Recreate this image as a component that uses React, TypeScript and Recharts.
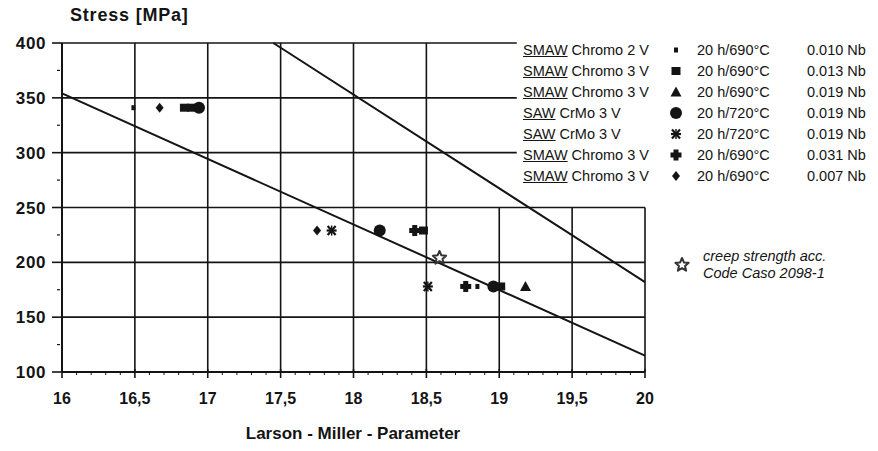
import React from 'react';
import { ScatterChart, Scatter, XAxis, YAxis, ReferenceLine } from 'recharts';

// ---------- data ----------
const xMajorTicks = [16, 16.5, 17, 17.5, 18, 18.5, 19, 19.5, 20];
const xTickLabels = ['16', '16,5', '17', '17,5', '18', '18,5', '19', '19,5', '20'];
const xMinorTicks = [
  16.1, 16.2, 16.3, 16.4, 16.6, 16.7, 16.8, 16.9,
  17.1, 17.2, 17.3, 17.4, 17.6, 17.7, 17.8, 17.9,
  18.1, 18.2, 18.3, 18.4, 18.6, 18.7, 18.8, 18.9,
  19.1, 19.2, 19.3, 19.4, 19.6, 19.7, 19.8, 19.9,
];
const yMajorTicks = [100, 150, 200, 250, 300, 350, 400];
const yMinorTicks = [125, 175, 225, 275, 325, 375];

// grid: lines partly hidden behind the legend block in the original
const yGridFull = [150, 200, 250];
const yGridShort = [300, 350, 400];
const xGridFull = [16.5, 17, 17.5, 18, 18.5];
const xGridShort = [19, 19.5, 20];
const legendEdgeX = 19.12;
const legendEdgeY = 250;

const smawChromo2V_010 = [{ x: 16.49, y: 341 }, { x: 18.85, y: 178 }];
const smawChromo3V_013 = [{ x: 16.84, y: 341 }, { x: 16.89, y: 341 }, { x: 18.48, y: 229 }, { x: 19.01, y: 178 }];
const smawChromo3V_019 = [{ x: 19.18, y: 178 }];
const sawCrMo3V_019_circle = [{ x: 16.94, y: 341 }, { x: 18.18, y: 229 }, { x: 18.96, y: 178 }];
const sawCrMo3V_019_star = [{ x: 17.85, y: 229 }, { x: 18.51, y: 178 }];
const smawChromo3V_031 = [{ x: 18.42, y: 229 }, { x: 18.77, y: 178 }];
const smawChromo3V_007 = [{ x: 16.67, y: 341 }, { x: 17.75, y: 229 }];
const creepStrength = [{ x: 18.59, y: 204 }];

const lowerLine = [{ x: 16, y: 354 }, { x: 20, y: 115 }];
const upperLine = [{ x: 17.45, y: 400 }, { x: 20, y: 182 }];

const legendProcess = ['SMAW', 'SMAW', 'SMAW', 'SAW', 'SAW', 'SMAW', 'SMAW'];
const legendGrade = ['Chromo 2 V', 'Chromo 3 V', 'Chromo 3 V', 'CrMo 3 V', 'CrMo 3 V', 'Chromo 3 V', 'Chromo 3 V'];
const legendTreatment = ['20 h/690°C', '20 h/690°C', '20 h/690°C', '20 h/720°C', '20 h/720°C', '20 h/690°C', '20 h/690°C'];
const legendNb = ['0.010 Nb', '0.013 Nb', '0.019 Nb', '0.019 Nb', '0.019 Nb', '0.031 Nb', '0.007 Nb'];
const legendMarkers: MarkerKind[] = ['dot', 'square', 'triangle', 'circle', 'asterisk', 'plus', 'diamond'];

// ---------- style ----------
const INK = '#141414';
const FONT = '"Liberation Sans", Arial, Helvetica, sans-serif';

type MarkerKind = 'dot' | 'square' | 'triangle' | 'circle' | 'asterisk' | 'plus' | 'diamond' | 'star';

function starPoints(cx: number, cy: number, ro: number, ri: number) {
  const pts: string[] = [];
  for (let i = 0; i < 10; i++) {
    const r = i % 2 === 0 ? ro : ri;
    const a = -Math.PI / 2 + (i * Math.PI) / 5;
    pts.push(`${cx + r * Math.cos(a)},${cy + r * Math.sin(a)}`);
  }
  return pts.join(' ');
}

function drawMarker(kind: MarkerKind, cx: number, cy: number) {
  switch (kind) {
    case 'dot':
      return <rect x={cx - 2} y={cy - 2.5} width={4} height={5} fill={INK} />;
    case 'square':
      return <rect x={cx - 4.5} y={cy - 4} width={9} height={8} fill={INK} />;
    case 'triangle':
      return <polygon points={`${cx},${cy - 5.5} ${cx + 5.5},${cy + 4.5} ${cx - 5.5},${cy + 4.5}`} fill={INK} />;
    case 'circle':
      return <circle cx={cx} cy={cy} r={6} fill={INK} />;
    case 'asterisk':
      return (
        <g stroke={INK} strokeWidth={2.2}>
          <line x1={cx - 5} y1={cy} x2={cx + 5} y2={cy} />
          <line x1={cx - 4} y1={cy - 4.5} x2={cx + 4} y2={cy + 4.5} />
          <line x1={cx - 4} y1={cy + 4.5} x2={cx + 4} y2={cy - 4.5} />
          <line x1={cx} y1={cy - 5} x2={cx} y2={cy + 5} strokeWidth={1.5} />
        </g>
      );
    case 'plus':
      return (
        <g fill={INK}>
          <rect x={cx - 5.5} y={cy - 2.5} width={11} height={5} />
          <rect x={cx - 2.5} y={cy - 5.5} width={5} height={11} />
        </g>
      );
    case 'diamond':
      return <polygon points={`${cx},${cy - 5} ${cx + 4},${cy} ${cx},${cy + 5} ${cx - 4},${cy}`} fill={INK} />;
    case 'star':
      return <polygon points={starPoints(cx, cy, 7, 3.2)} fill="#fff" stroke="#333" strokeWidth={2} strokeLinejoin="round" />;
    default:
      return null;
  }
}

const makeShape = (kind: MarkerKind) => (props: any) => {
  const { cx, cy } = props;
  if (cx == null || cy == null) return <g />;
  return drawMarker(kind, cx, cy);
};

const isMajor = (arr: number[], v: number) => arr.findIndex((t) => Math.abs(t - v) < 1e-6);

const XTick = (props: any) => {
  const { x, y, payload } = props;
  const idx = isMajor(xMajorTicks, payload.value);
  if (idx >= 0) {
    return (
      <g>
        <line x1={x} x2={x} y1={y - 3} y2={y + 6} stroke={INK} strokeWidth={1.6} />
        <text x={x} y={y + 32} textAnchor="middle" fontFamily={FONT} fontWeight="bold" fontSize={16} fill={INK}>
          {xTickLabels[idx]}
        </text>
      </g>
    );
  }
  return <line x1={x} x2={x} y1={y} y2={y + 3} stroke={INK} strokeWidth={1} />;
};

const YTick = (props: any) => {
  const { x, y, payload } = props;
  const idx = isMajor(yMajorTicks, payload.value);
  if (idx >= 0) {
    return (
      <g>
        <line x1={x - 10} x2={x} y1={y} y2={y} stroke={INK} strokeWidth={1.6} />
        <text x={x - 16} y={y + 6} textAnchor="end" fontFamily={FONT} fontWeight="bold" fontSize={17} letterSpacing={0.6} fill={INK}>
          {String(yMajorTicks[idx])}
        </text>
      </g>
    );
  }
  return <line x1={x - 5} x2={x - 2} y1={y} y2={y} stroke={INK} strokeWidth={1.2} />;
};

const xAllTicks = [...xMajorTicks, ...xMinorTicks].sort((a, b) => a - b);
const yAllTicks = [...yMajorTicks, ...yMinorTicks].sort((a, b) => a - b);

const seriesDefs: { data: { x: number; y: number }[]; kind: MarkerKind }[] = [
  { data: smawChromo2V_010, kind: 'dot' },
  { data: smawChromo3V_013, kind: 'square' },
  { data: smawChromo3V_019, kind: 'triangle' },
  { data: sawCrMo3V_019_circle, kind: 'circle' },
  { data: sawCrMo3V_019_star, kind: 'asterisk' },
  { data: smawChromo3V_031, kind: 'plus' },
  { data: smawChromo3V_007, kind: 'diamond' },
  { data: creepStrength, kind: 'star' },
];

function LegendMarker({ kind }: { kind: MarkerKind }) {
  return (
    <svg width={16} height={16} style={{ position: 'absolute', left: -8, top: -8, overflow: 'visible' }}>
      {drawMarker(kind, 8, 8)}
    </svg>
  );
}

export default function App() {
  return (
    <div style={{ position: 'absolute', left: 0, top: 0, width: 878, height: 451, background: '#fff', fontFamily: FONT, color: INK }}>
      <ScatterChart width={878} height={451} margin={{ top: 43, right: 233, bottom: 39, left: 2 }}>
        <XAxis
          type="number"
          dataKey="x"
          domain={[16, 20]}
          ticks={xAllTicks}
          interval={0}
          tick={<XTick />}
          tickSize={0}
          tickMargin={0}
          tickLine={false}
          axisLine={{ stroke: INK, strokeWidth: 2 }}
          height={40}
          allowDataOverflow
        />
        <YAxis
          type="number"
          dataKey="y"
          domain={[100, 400]}
          ticks={yAllTicks}
          interval={0}
          tick={<YTick />}
          tickSize={0}
          tickMargin={0}
          tickLine={false}
          axisLine={{ stroke: INK, strokeWidth: 2 }}
          width={60}
          allowDataOverflow
        />
        {yGridFull.map((v) => (
          <ReferenceLine key={'h' + v} y={v} stroke={INK} strokeWidth={1.6} />
        ))}
        {yGridShort.map((v) => (
          <ReferenceLine key={'hs' + v} segment={[{ x: 16, y: v }, { x: legendEdgeX, y: v }]} stroke={INK} strokeWidth={1.6} />
        ))}
        {xGridFull.map((v) => (
          <ReferenceLine key={'v' + v} x={v} stroke={INK} strokeWidth={1.6} />
        ))}
        {xGridShort.map((v) => (
          <ReferenceLine key={'vs' + v} segment={[{ x: v, y: 100 }, { x: v, y: legendEdgeY }]} stroke={INK} strokeWidth={1.6} />
        ))}
        <ReferenceLine segment={lowerLine} stroke={INK} strokeWidth={2} />
        <ReferenceLine segment={upperLine} stroke={INK} strokeWidth={2} />
        {seriesDefs.map((s, i) => (
          <Scatter key={i} data={s.data} shape={makeShape(s.kind)} isAnimationActive={false} />
        ))}
      </ScatterChart>

      {/* axis titles */}
      <div style={{ position: 'absolute', left: 70, top: 4, fontSize: 18, fontWeight: 'bold', letterSpacing: 0.8, lineHeight: '22px', whiteSpace: 'nowrap' }}>
        Stress [MPa]
      </div>
      <div style={{ position: 'absolute', left: 0, width: 706, top: 423, textAlign: 'center', fontSize: 17, fontWeight: 'bold', lineHeight: '22px', whiteSpace: 'nowrap' }}>
        Larson - Miller - Parameter
      </div>

      {/* legend */}
      <div style={{ position: 'absolute', left: 517, top: 36, width: 361, height: 160 }}>
        {legendProcess.map((p, i) => {
          const cy = 50 + 21 * i - 36;
          return (
            <div key={i} style={{ position: 'absolute', left: 0, top: cy - 9, width: 361, height: 18, fontSize: 14.5, lineHeight: '18px', whiteSpace: 'nowrap' }}>
              <span style={{ position: 'absolute', left: 6 }}>
                <span style={{ textDecoration: 'underline' }}>{p}</span> {legendGrade[i]}
              </span>
              <span style={{ position: 'absolute', left: 159, top: 9 }}>
                <LegendMarker kind={legendMarkers[i]} />
              </span>
              <span style={{ position: 'absolute', left: 180 }}>{legendTreatment[i]}</span>
              <span style={{ position: 'absolute', left: 290 }}>{legendNb[i]}</span>
            </div>
          );
        })}
      </div>

      {/* creep strength note */}
      <div style={{ position: 'absolute', left: 682, top: 265 }}>
        <LegendMarker kind="star" />
      </div>
      <div style={{ position: 'absolute', left: 703, top: 248, fontSize: 14.5, fontStyle: 'italic', lineHeight: '17px', whiteSpace: 'nowrap' }}>
        creep strength acc.
        <br />
        Code Caso 2098-1
      </div>
    </div>
  );
}
